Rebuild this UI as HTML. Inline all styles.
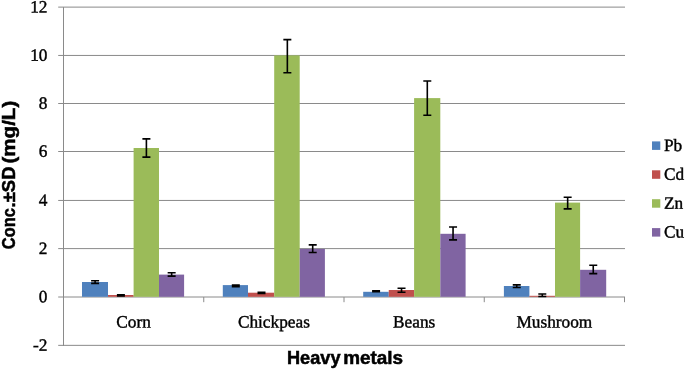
<!DOCTYPE html>
<html><head><meta charset="utf-8"><title>Heavy metals</title>
<style>html,body{margin:0;padding:0;background:#fff}svg{display:block}</style></head>
<body>
<svg width="685" height="369" viewBox="0 0 685 369">
<rect width="685" height="369" fill="#fff"/>
<g stroke="#8a8a8a" stroke-width="1" fill="none">
<line x1="58.20" y1="345.35" x2="625.00" y2="345.35"/>
<line x1="58.20" y1="297.00" x2="625.00" y2="297.00"/>
<line x1="58.20" y1="248.60" x2="625.00" y2="248.60"/>
<line x1="58.20" y1="200.45" x2="625.00" y2="200.45"/>
<line x1="58.20" y1="151.50" x2="625.00" y2="151.50"/>
<line x1="58.20" y1="103.50" x2="625.00" y2="103.50"/>
<line x1="58.20" y1="55.45" x2="625.00" y2="55.45"/>
<line x1="58.20" y1="7.12" x2="625.00" y2="7.12"/>
<line x1="63.50" y1="7.12" x2="63.50" y2="345.85"/>
<line x1="203.75" y1="297.00" x2="203.75" y2="302.20"/>
<line x1="344.00" y1="297.00" x2="344.00" y2="302.20"/>
<line x1="484.25" y1="297.00" x2="484.25" y2="302.20"/>
<line x1="624.50" y1="297.00" x2="624.50" y2="302.20"/>
</g>
<rect x="82.00" y="282.00" width="26.00" height="14.80" fill="#4F81BD"/>
<rect x="108.00" y="295.00" width="25.60" height="1.80" fill="#C0504D"/>
<rect x="133.60" y="148.00" width="25.40" height="148.80" fill="#9BBB59"/>
<rect x="159.00" y="274.60" width="25.10" height="22.20" fill="#8064A2"/>
<rect x="222.80" y="285.10" width="25.20" height="11.70" fill="#4F81BD"/>
<rect x="248.00" y="292.70" width="26.20" height="4.10" fill="#C0504D"/>
<rect x="274.20" y="55.40" width="25.50" height="241.40" fill="#9BBB59"/>
<rect x="299.70" y="248.90" width="25.20" height="47.90" fill="#8064A2"/>
<rect x="363.20" y="291.80" width="25.55" height="5.00" fill="#4F81BD"/>
<rect x="388.75" y="290.00" width="25.35" height="6.80" fill="#C0504D"/>
<rect x="414.10" y="98.10" width="26.20" height="198.70" fill="#9BBB59"/>
<rect x="440.30" y="233.80" width="25.30" height="63.00" fill="#8064A2"/>
<rect x="503.90" y="286.00" width="25.50" height="10.80" fill="#4F81BD"/>
<rect x="529.40" y="295.80" width="25.60" height="1.00" fill="#C0504D"/>
<rect x="555.00" y="202.60" width="25.10" height="94.20" fill="#9BBB59"/>
<rect x="580.10" y="269.80" width="26.10" height="27.00" fill="#8064A2"/>
<g stroke="#000" stroke-width="1.6" fill="none">
<path d="M91.10 280.70H99.10M91.10 283.40H99.10M95.10 280.70V283.40"/>
<path d="M116.90 294.90H124.90M116.90 295.90H124.90M120.90 294.90V295.90"/>
<path d="M142.40 138.90H150.40M142.40 157.10H150.40M146.40 138.90V157.10"/>
<path d="M167.65 272.80H175.65M167.65 276.10H175.65M171.65 272.80V276.10"/>
<path d="M231.80 285.00H239.80M231.80 286.60H239.80M235.80 285.00V286.60"/>
<path d="M257.50 292.40H265.50M257.50 293.40H265.50M261.50 292.40V293.40"/>
<path d="M283.35 39.60H291.35M283.35 72.80H291.35M287.35 39.60V72.80"/>
<path d="M308.70 244.90H316.70M308.70 252.50H316.70M312.70 244.90V252.50"/>
<path d="M372.08 290.80H380.08M372.08 291.80H380.08M376.08 290.80V291.80"/>
<path d="M397.53 288.30H405.53M397.53 292.30H405.53M401.53 288.30V292.30"/>
<path d="M423.30 81.00H431.30M423.30 115.30H431.30M427.30 81.00V115.30"/>
<path d="M449.05 227.00H457.05M449.05 239.90H457.05M453.05 227.00V239.90"/>
<path d="M512.75 284.90H520.75M512.75 287.50H520.75M516.75 284.90V287.50"/>
<path d="M538.30 293.95H546.30M538.30 296.45H546.30M542.30 293.95V296.45"/>
<path d="M563.65 197.20H571.65M563.65 208.90H571.65M567.65 197.20V208.90"/>
<path d="M589.25 265.20H597.25M589.25 273.60H597.25M593.25 265.20V273.60"/>
</g>
<g font-family="'Liberation Serif', serif" font-size="17.3" fill="#000" stroke="#000" stroke-width="0.4">
<text transform="translate(47.50 350.70) rotate(0.03)" text-anchor="end">-2</text>
<text transform="translate(47.50 302.35) rotate(0.03)" text-anchor="end">0</text>
<text transform="translate(47.50 253.95) rotate(0.03)" text-anchor="end">2</text>
<text transform="translate(47.50 205.80) rotate(0.03)" text-anchor="end">4</text>
<text transform="translate(47.50 156.85) rotate(0.03)" text-anchor="end">6</text>
<text transform="translate(47.50 108.85) rotate(0.03)" text-anchor="end">8</text>
<text transform="translate(47.50 60.80) rotate(0.03)" text-anchor="end">10</text>
<text transform="translate(47.50 12.47) rotate(0.03)" text-anchor="end">12</text>
<text transform="translate(133.62 327.50) rotate(0.03)" text-anchor="middle">Corn</text>
<text transform="translate(273.88 327.50) rotate(0.03)" text-anchor="middle">Chickpeas</text>
<text transform="translate(414.12 327.50) rotate(0.03)" text-anchor="middle">Beans</text>
<text transform="translate(554.38 327.50) rotate(0.03)" text-anchor="middle">Mushroom</text>
<rect x="652" y="141.40" width="8.3" height="8.5" stroke="none" fill="#4F81BD"/>
<text transform="translate(664.00 150.90) rotate(0.03)" text-anchor="start">Pb</text>
<rect x="652" y="170.30" width="8.3" height="8.5" stroke="none" fill="#C0504D"/>
<text transform="translate(664.00 179.80) rotate(0.03)" text-anchor="start">Cd</text>
<rect x="652" y="199.20" width="8.3" height="8.5" stroke="none" fill="#9BBB59"/>
<text transform="translate(664.00 208.70) rotate(0.03)" text-anchor="start">Zn</text>
<rect x="652" y="228.10" width="8.3" height="8.5" stroke="none" fill="#8064A2"/>
<text transform="translate(664.00 237.60) rotate(0.03)" text-anchor="start">Cu</text>
</g>
<g font-family="'Liberation Sans', sans-serif" font-weight="bold" font-size="17.5" fill="#000" stroke="#000" stroke-width="0.5">
<text transform="translate(0 364.35) rotate(0.02)"><tspan x="287" textLength="53.5" lengthAdjust="spacingAndGlyphs">Heavy</tspan> <tspan x="343.2" textLength="59.9" lengthAdjust="spacingAndGlyphs">metals</tspan></text>
<text transform="translate(14.8 249.2) rotate(-90)"><tspan x="0" textLength="41" lengthAdjust="spacingAndGlyphs">Conc</tspan><tspan x="41.8" textLength="40.9" lengthAdjust="spacingAndGlyphs">.±SD</tspan> <tspan x="85.7" textLength="62.8" lengthAdjust="spacingAndGlyphs">(mg/L)</tspan></text>
</g>
</svg>
</body></html>
